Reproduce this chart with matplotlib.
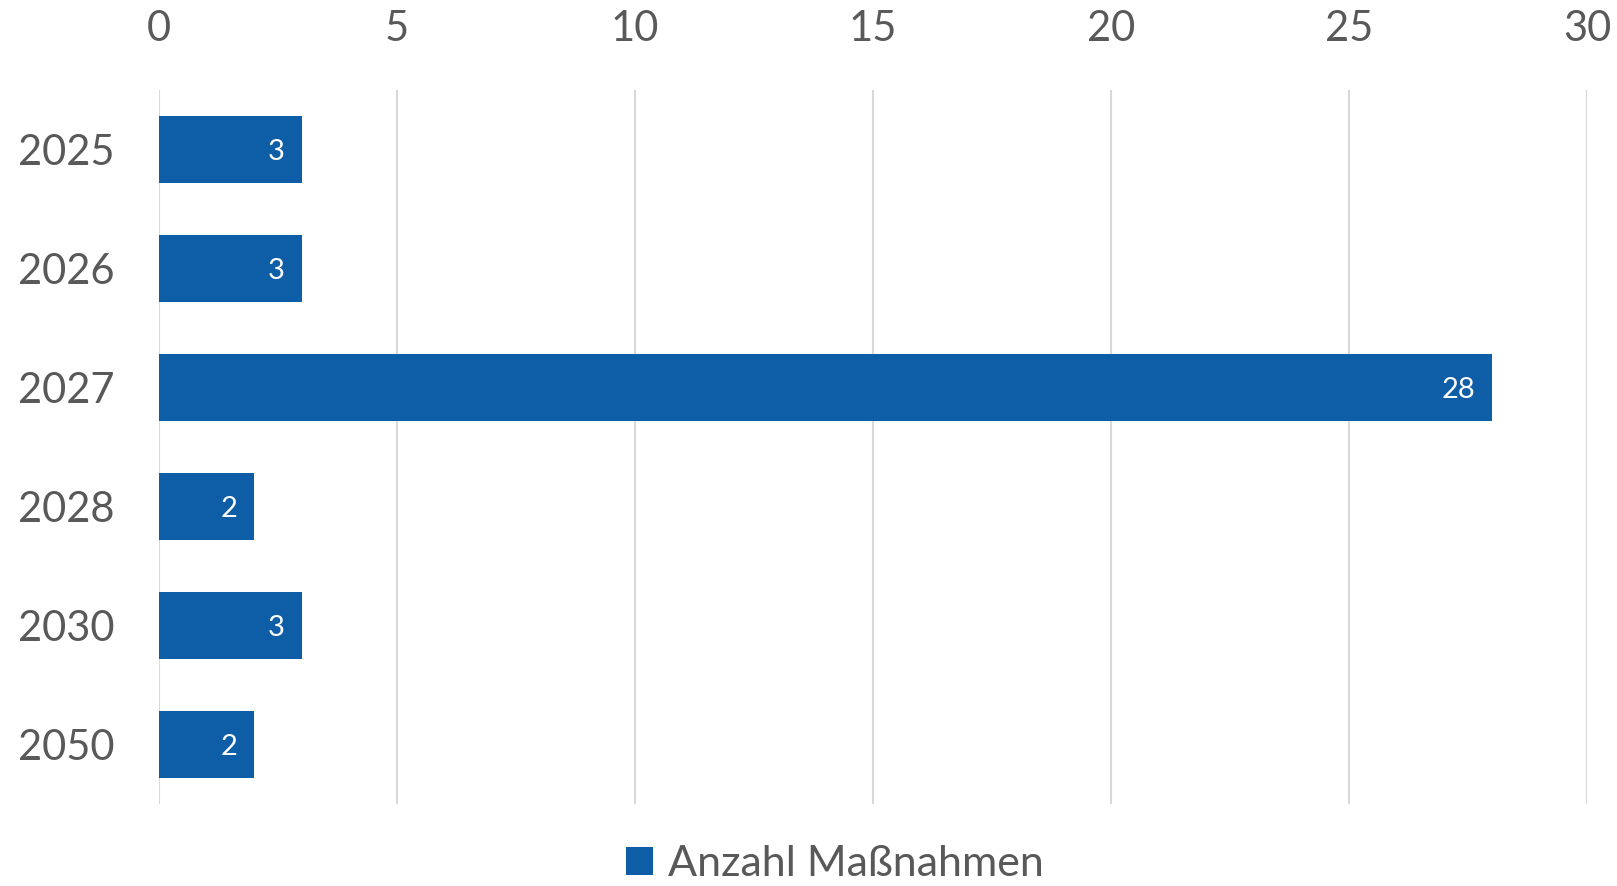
import matplotlib
matplotlib.use("Agg")
import matplotlib.pyplot as plt

years = ["2025", "2026", "2027", "2028", "2030", "2050"]
counts = [3, 3, 28, 2, 3, 2]
x_ticks = [0, 5, 10, 15, 20, 25, 30]
series_name = "Anzahl Maßnahmen"

W, H = 1617, 886
plt.rcParams['font.family'] = ['Lato', 'DejaVu Sans']
fig = plt.figure(figsize=(W / 100, H / 100), dpi=100)
ax = fig.add_axes([159 / W, 1 - 804 / H, (1587 - 159) / W, (804 - 90) / H])

bar_color = "#0E5DA7"
text_color = "#595959"
ypos = list(range(len(years)))
bars = ax.barh(ypos, counts, height=0.555, color=bar_color, label=series_name, zorder=3)

for y, v in zip(ypos, counts):
    ax.annotate(str(v), xy=(v, y), xytext=(-12, -2), textcoords="offset points",
                ha="right", va="center", color="white", fontsize=21, zorder=4)

ax.set_xlim(0, 30)
ax.set_ylim(5.5, -0.5)
ax.set_xticks(x_ticks)
ax.set_xticklabels([str(t) for t in x_ticks])
ax.xaxis.tick_top()
ax.set_yticks(ypos)
ax.set_yticklabels(years)
ax.tick_params(axis="x", length=0, pad=30, labelsize=30, labelcolor=text_color)
ax.tick_params(axis="y", length=0, pad=32, labelsize=30, labelcolor=text_color)
for s in ax.spines.values():
    s.set_visible(False)
ax.grid(axis="x", color="#D9D9D9", linewidth=1.5, zorder=0)
ax.set_axisbelow(True)

fig.legend(handles=[bars], labels=[series_name], loc="center",
           bbox_to_anchor=(835 / W, 1 - 864 / H), frameon=False, fontsize=31,
           handlelength=0.62, handleheight=0.62, handletextpad=0.35,
           borderpad=0.1, labelcolor=text_color)

fig.savefig("out.png", dpi=100)
